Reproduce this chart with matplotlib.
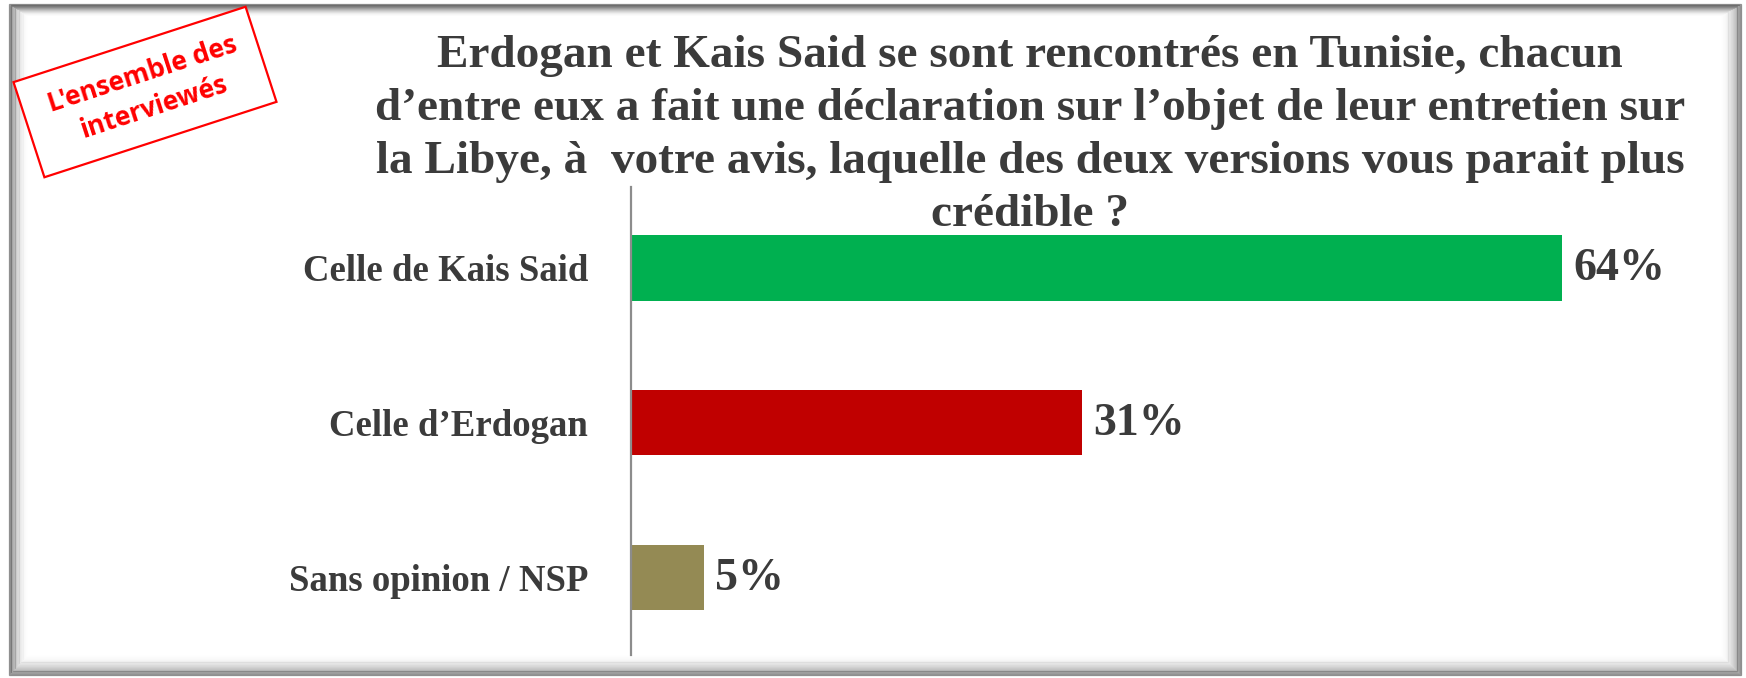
import matplotlib
matplotlib.use("Agg")
import matplotlib.pyplot as plt
from matplotlib.patches import Rectangle, Polygon
import math

categories = ["Celle de Kais Said", "Celle d\u2019Erdogan", "Sans opinion / NSP"]
values = [64, 31, 5]
colors = ["#00B050", "#C00000", "#948A54"]
title = ("Erdogan et Kais Said se sont rencontrés en Tunisie, chacun\n"
         "d\u2019entre eux a fait une déclaration sur l\u2019objet de leur entretien sur\n"
         "la Libye, à  votre avis, laquelle des deux versions vous parait plus\n"
         "crédible ?")
stamp = "L'ensemble des\ninterviewés"

W, H = 1746, 678
fig = plt.figure(figsize=(W / 100, H / 100), dpi=100)
fig.patch.set_facecolor("white")


def fx(px):
    return px / W


def fy(py):
    return 1 - py / H


# frame with soft inner shadow
n = 24
for i in range(n):
    a = 0.6 * (1 - i / n) ** 2.2
    x0, y0, x1, y1 = 9 + i * 0.8, 4 + i * 0.5, 1741 - i * 0.9, 675 - i * 0.9
    fig.patches.append(Rectangle((fx(x0), fy(y1)), fx(x1) - fx(x0), fy(y0) - fy(y1),
                                 transform=fig.transFigure, fill=False,
                                 edgecolor=(0.3, 0.3, 0.3, a), lw=0.9, zorder=0))

ax = fig.add_axes([631 / W, 1 - 655 / H, 1091 / W, (655 - 187) / H])
ypos = list(range(len(categories)))
ax.barh(ypos, values, height=0.425, color=colors, zorder=2)
ax.set_xlim(0, 75)
ax.set_ylim(2.5, -0.52)
ax.set_yticks(ypos)
ax.set_yticklabels(categories, fontfamily="Liberation Serif", fontweight="bold",
                   fontsize=26.5, color="#3B3B3B")
ax.tick_params(axis="y", length=0, pad=31)
ax.set_xticks([])
for s in ["top", "right", "bottom"]:
    ax.spines[s].set_visible(False)
ax.spines["left"].set_color("#8C8C8C")
ax.spines["left"].set_linewidth(1.6)
ax.patch.set_alpha(0)

for y, v in zip(ypos, values):
    ax.annotate(f"{v}%", xy=(v, y), xytext=(8, -1), textcoords="offset points",
                va="center", ha="left", fontfamily="Liberation Serif",
                fontweight="bold", fontsize=33, color="#3B3B3B")

fig.text(1030 / W, 1 - 35 / H, title, ha="center", va="top",
         fontfamily="Liberation Serif", fontweight="bold", fontsize=34,
         color="#3B3B3B", linespacing=1.34)

# stamp
cx, cy = 145, 92
ang = 18
rect_w, rect_h = 244, 100
th = math.radians(ang)
corners = []
for dx, dy in [(-rect_w / 2, -rect_h / 2), (rect_w / 2, -rect_h / 2),
               (rect_w / 2, rect_h / 2), (-rect_w / 2, rect_h / 2)]:
    rx = dx * math.cos(th) - dy * math.sin(th)
    ry = dx * math.sin(th) + dy * math.cos(th)
    corners.append((fx(cx) + rx / W, fy(cy) + ry / H))
fig.patches.append(Polygon(corners, closed=True, fill=True, facecolor="white",
                           edgecolor="#FF0000", lw=1.6, transform=fig.transFigure))
fig.text(fx(cx + 3), fy(cy - 1), stamp, ha="center", va="center", rotation=ang,
         rotation_mode="anchor", fontfamily="Open Sans", fontweight="bold",
         fontsize=19, color="#FF0000", linespacing=1.35)

fig.savefig("out.png", dpi=100)
